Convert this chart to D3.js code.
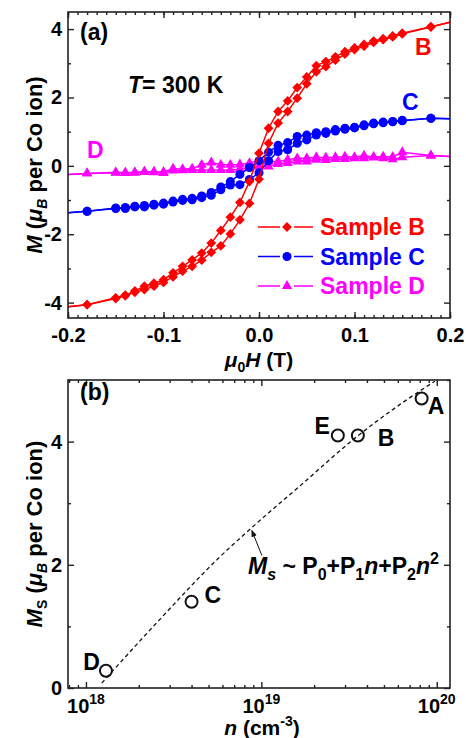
<!DOCTYPE html>
<html>
<head>
<meta charset="utf-8">
<script src="https://cdn.jsdelivr.net/npm/d3@7"></script>
<style>
  body { margin: 0; background: #fff; }
  svg text { font-family: "Liberation Sans", Arial, sans-serif; font-weight: bold; }
</style>
</head>
<body>
<svg id="chart" width="466" height="738"></svg>
<script>
// PANEL (a) DATA: applied field and both loop branches per sample
const fieldH = [-0.2, -0.18, -0.15, -0.14, -0.13, -0.12, -0.11, -0.10, -0.09, -0.08, -0.07, -0.06, -0.05, -0.04, -0.03, -0.02, -0.01, 0,
  0.01, 0.02, 0.03, 0.04, 0.05, 0.06, 0.07, 0.08, 0.09, 0.10, 0.11, 0.12, 0.13, 0.14, 0.15, 0.18, 0.2];

const sampleBDown = [-4.12, -4.06, -3.86, -3.78, -3.66, -3.52, -3.43, -3.33, -3.13, -2.94, -2.75, -2.55, -2.26, -1.89, -1.50, -1.07, -0.46, 0.37,
  1.10, 1.59, 1.90, 2.29, 2.60, 2.93, 3.05, 3.19, 3.34, 3.45, 3.55, 3.65, 3.72, 3.80, 3.88, 4.07, 4.20];
const sampleBUp = [-4.12, -4.06, -3.88, -3.80, -3.70, -3.62, -3.52, -3.41, -3.25, -3.08, -2.94, -2.76, -2.53, -2.34, -1.99, -1.58, -1.10, -0.39,
  0.66, 1.25, 1.59, 1.98, 2.40, 2.75, 2.90, 3.09, 3.27, 3.40, 3.50, 3.61, 3.69, 3.77, 3.86, 4.06, 4.20];

const sampleCDown = [-1.37, -1.33, -1.23, -1.22, -1.18, -1.16, -1.12, -1.09, -1.03, -0.98, -0.95, -0.88, -0.78, -0.62, -0.46, -0.25, -0.05, 0.15,
  0.40, 0.60, 0.68, 0.86, 0.90, 0.97, 1.00, 1.06, 1.10, 1.13, 1.20, 1.25, 1.28, 1.30, 1.33, 1.39, 1.38];
const sampleCUp = [-1.37, -1.33, -1.25, -1.25, -1.20, -1.20, -1.15, -1.12, -1.06, -1.01, -0.99, -0.93, -0.86, -0.70, -0.56, -0.55, -0.40, -0.20,
  0.15, 0.42, 0.47, 0.66, 0.76, 0.90, 0.95, 1.02, 1.07, 1.11, 1.17, 1.23, 1.26, 1.29, 1.32, 1.39, 1.38];

const sampleDDown = [-0.25, -0.22, -0.19, -0.20, -0.19, -0.17, -0.17, -0.18, -0.08, -0.10, -0.08, 0.03, 0.10, 0.03, 0.03, 0.04, 0.08, 0.17,
  0.13, 0.13, 0.18, 0.22, 0.22, 0.25, 0.24, 0.25, 0.27, 0.25, 0.30, 0.26, 0.27, 0.26, 0.40, 0.30, 0.27];
const sampleDUp = [-0.25, -0.22, -0.20, -0.21, -0.20, -0.18, -0.19, -0.21, -0.14, -0.13, -0.12, -0.12, -0.12, -0.12, -0.12, -0.10, -0.07, -0.02,
  -0.02, 0.05, 0.08, 0.13, 0.13, 0.18, 0.17, 0.20, 0.20, 0.22, 0.22, 0.24, 0.22, 0.19, 0.25, 0.30, 0.27];

const xTicksA = [-0.2, -0.1, 0, 0.1, 0.2];
const xTickLabelsA = ["-0.2", "-0.1", "0.0", "0.1", "0.2"];
const yTicksA = [-4, -2, 0, 2, 4];
const yMinorA = [-3, -1, 1, 3];

// PANEL (b) DATA: saturation moment vs carrier density
const sampleNames = ["A", "B", "C", "D", "E"];
const carrierN = [8.2e19, 3.55e19, 4.0e18, 1.3e18, 2.73e19];
const satM = [4.70, 4.10, 1.40, 0.28, 4.10];

// dashed fit curve
const fitN = [1.23e18, 2.63e18, 5.57e18, 8.71e18, 1.66e19, 3.50e19, 6.15e19, 9.75e19];
const fitM = [0.08, 1.11, 2.08, 2.59, 3.28, 4.08, 4.60, 4.98];

const xTicksB = [1e18, 1e19, 1e20];
const xTickExpB = ["18", "19", "20"];
const yTicksB = [0, 2, 4];
const yMinorB = [1, 3, 5];

const svg = d3.select("#chart");

function translation(x, y) {
  return 'translate(' + x + ',' + y + ')';
}

function markerPath(type) {
  if (type === 'diamond') return d3.symbol(d3.symbolSquare, 48)();
  if (type === 'circle') return d3.symbol(d3.symbolCircle, 64)();
  return d3.symbol(d3.symbolTriangle, 46)();
}

// ticks point inward on all four sides, labels only bottom + left
function drawAxes(x, y, box, xMajor, xMinor, yMajor, yMinor) {
  const g = svg.append('g');
  const sides = [
    [d3.axisBottom(x), translation(0, box.bottom), xMajor, xMinor],
    [d3.axisTop(x), translation(0, box.top), xMajor, xMinor],
    [d3.axisLeft(y), translation(box.left, 0), yMajor, yMinor],
    [d3.axisRight(y), translation(box.right, 0), yMajor, yMinor]
  ];
  sides.forEach(function(s) {
    g.append('g').attr('transform', s[1])
      .call(s[0].tickValues(s[2]).tickSize(-6).tickFormat(''));
    g.append('g').attr('transform', s[1])
      .call(s[0].tickValues(s[3]).tickSize(-3).tickFormat(''));
  });
  g.selectAll('.domain').remove();
  g.selectAll('.tick line').attr('stroke', '#222').attr('stroke-width', 1.4);
  g.append('rect')
    .attr('x', box.left).attr('y', box.top)
    .attr('width', box.right - box.left).attr('height', box.bottom - box.top)
    .attr('fill', 'none').attr('stroke', '#222').attr('stroke-width', 1.6);
  return g;
}

// ---------------- PANEL (a) ----------------
const a = { left: 68, right: 450, top: 12, bottom: 318 };
const xA = d3.scaleLinear().domain([-0.2, 0.2]).range([a.left, a.right]);
const yA = d3.scaleLinear().domain([-4.45, 4.5]).range([a.bottom, a.top]);

svg.append('clipPath').attr('id', 'clipA')
  .append('rect').attr('x', a.left).attr('y', a.top)
  .attr('width', a.right - a.left).attr('height', a.bottom - a.top);

const series = [
  { name: 'Sample D', down: sampleDDown, up: sampleDUp, color: '#ff00ff', marker: 'triangle' },
  { name: 'Sample C', down: sampleCDown, up: sampleCUp, color: '#0000ff', marker: 'circle' },
  { name: 'Sample B', down: sampleBDown, up: sampleBUp, color: '#ff0000', marker: 'diamond' }
];

const loopLine = d3.line()
  .x(function(d, i) { return xA(fieldH[i]); })
  .y(function(d) { return yA(d); });

const plotA = svg.append('g').attr('clip-path', 'url(#clipA)');

series.forEach(function(s) {
  [s.down, s.up].forEach(function(branch) {
    plotA.append('path')
      .attr('d', loopLine(branch))
      .attr('fill', 'none')
      .attr('stroke', s.color)
      .attr('stroke-width', 1.5);
  });
  [s.down, s.up].forEach(function(branch) {
    plotA.selectAll(null)
      .data(branch.map(function(m, i) { return [fieldH[i], m]; })
        .filter(function(d) { return Math.abs(d[0]) < 0.199; }))
      .enter().append('path')
        .attr('d', markerPath(s.marker))
        .attr('transform', function(d) {
          return translation(xA(d[0]), yA(d[1])) + (s.marker === 'diamond' ? ' rotate(45)' : '');
        })
        .attr('fill', s.color);
  });
});

const axA = drawAxes(xA, yA, a, xTicksA, d3.range(-20, 21).map(function(i) { return i / 100; }), yTicksA, yMinorA);

axA.append('g').attr('transform', translation(0, a.bottom))
  .call(d3.axisBottom(xA).tickValues(xTicksA).tickSize(0).tickPadding(10)
    .tickFormat(function(d, i) { return xTickLabelsA[i]; }))
  .attr('font-size', 20)
  .select('.domain').remove();

axA.append('g').attr('transform', translation(a.left, 0))
  .call(d3.axisLeft(yA).tickValues(yTicksA).tickSize(0).tickPadding(6)
    .tickFormat(function(d) { return d < 0 ? '-' + Math.abs(d) : '' + d; }))
  .attr('font-size', 20)
  .select('.domain').remove();

// annotations
svg.append('text').attr('x', 80).attr('y', 40).attr('font-size', 23).text('(a)');

const tLabel = svg.append('text').attr('x', 128).attr('y', 93).attr('font-size', 23);
tLabel.append('tspan').attr('font-style', 'italic').text('T');
tLabel.append('tspan').text('= 300 K');

svg.append('text').attr('x', 415).attr('y', 55).attr('font-size', 23).attr('fill', '#ff0000').text('B');
svg.append('text').attr('x', 402).attr('y', 110).attr('font-size', 23).attr('fill', '#0000ff').text('C');
svg.append('text').attr('x', 87).attr('y', 158).attr('font-size', 23).attr('fill', '#ff00ff').text('D');

// legend
const legendRows = [series[2], series[1], series[0]];
legendRows.forEach(function(s, i) {
  const cy = 227 + i * 29.5;
  const lg = svg.append('g');
  lg.append('line').attr('x1', 258).attr('x2', 280).attr('y1', cy).attr('y2', cy)
    .attr('stroke', s.color).attr('stroke-width', 1.5);
  lg.append('line').attr('x1', 294).attr('x2', 313).attr('y1', cy).attr('y2', cy)
    .attr('stroke', s.color).attr('stroke-width', 1.5);
  lg.append('path').attr('d', markerPath(s.marker))
    .attr('transform', translation(287, cy) + (s.marker === 'diamond' ? ' rotate(45)' : ''))
    .attr('fill', s.color);
  lg.append('text').attr('x', 320).attr('y', cy + 8).attr('font-size', 23)
    .attr('fill', s.color).text(s.name);
});

// axis titles (a)
const xTitleA = svg.append('text').attr('x', 259).attr('y', 367)
  .attr('text-anchor', 'middle').attr('font-size', 21);
xTitleA.append('tspan').attr('font-style', 'italic').text('\u03bc');
xTitleA.append('tspan').attr('font-size', 14).attr('dy', 5).text('0');
xTitleA.append('tspan').attr('font-style', 'italic').attr('dy', -5).text('H');
xTitleA.append('tspan').text(' (T)');

const yTitleA = svg.append('text').attr('transform', translation(42, 165) + ' rotate(-90)')
  .attr('text-anchor', 'middle').attr('font-size', 22);
yTitleA.append('tspan').attr('font-style', 'italic').text('M');
yTitleA.append('tspan').text(' (');
yTitleA.append('tspan').attr('font-style', 'italic').text('\u03bc');
yTitleA.append('tspan').attr('font-style', 'italic').attr('font-size', 14).attr('dy', 5).text('B');
yTitleA.append('tspan').attr('dy', -5).text(' per Co ion)');

// ---------------- PANEL (b) ----------------
const b = { left: 68, right: 450, top: 380, bottom: 688 };
const xB = d3.scaleLog().domain([7.9e17, 1.19e20]).range([b.left, b.right]);
const yB = d3.scaleLinear().domain([0, 5]).range([b.bottom, b.top]);

const nMinor = [8e17, 9e17].concat(
  d3.range(2, 10).map(function(k) { return k * 1e18; }),
  d3.range(2, 10).map(function(k) { return k * 1e19; }));

const axB = drawAxes(xB, yB, b, xTicksB, nMinor, yTicksB, yMinorB);

axB.append('g').attr('transform', translation(b.left, 0))
  .call(d3.axisLeft(yB).tickValues(yTicksB).tickSize(0).tickPadding(6).tickFormat(d3.format('d')))
  .attr('font-size', 20)
  .select('.domain').remove();

xTicksB.forEach(function(v, i) {
  const t = svg.append('text').attr('x', xB(v)).attr('y', 713)
    .attr('text-anchor', 'middle').attr('font-size', 20);
  t.append('tspan').text('10');
  t.append('tspan').attr('font-size', 14).attr('dy', -9).text(xTickExpB[i]);
});

// fit curve
svg.append('path')
  .attr('d', d3.line()
    .x(function(d, i) { return xB(fitN[i]); })
    .y(function(d) { return yB(d); })
    .curve(d3.curveMonotoneX)(fitM))
  .attr('fill', 'none')
  .attr('stroke', '#111')
  .attr('stroke-width', 1.3)
  .attr('stroke-dasharray', '4,3');

// points
svg.selectAll('.ms-point')
  .data(sampleNames)
  .enter().append('circle')
    .attr('class', 'ms-point')
    .attr('cx', function(d, i) { return xB(carrierN[i]); })
    .attr('cy', function(d, i) { return yB(satM[i]); })
    .attr('r', 6)
    .attr('fill', 'none')
    .attr('stroke', '#111')
    .attr('stroke-width', 2);

const labelPlace = {
  A: [6, 16, 'start'],
  B: [20, 11, 'start'],
  C: [13, 1, 'start'],
  D: [-6, -1, 'end'],
  E: [-8, -1, 'end']
};
sampleNames.forEach(function(name, i) {
  const p = labelPlace[name];
  svg.append('text')
    .attr('x', xB(carrierN[i]) + p[0])
    .attr('y', yB(satM[i]) + p[1])
    .attr('text-anchor', p[2])
    .attr('font-size', 23)
    .text(name);
});

svg.append('text').attr('x', 80).attr('y', 400).attr('font-size', 23).text('(b)');

// arrow to fit curve
const tipX = xB(fitN[3]), tipY = yB(fitM[3]);
svg.append('defs').append('marker')
  .attr('id', 'arrowhead').attr('viewBox', '0 0 10 10')
  .attr('refX', 9).attr('refY', 5)
  .attr('markerWidth', 7).attr('markerHeight', 7)
  .attr('orient', 'auto')
  .append('path').attr('d', 'M0,1 L10,5 L0,9 Z').attr('fill', '#111');
svg.append('line')
  .attr('x1', tipX + 11).attr('y1', tipY + 27)
  .attr('x2', tipX + 1).attr('y2', tipY + 2)
  .attr('stroke', '#111').attr('stroke-width', 1)
  .attr('marker-end', 'url(#arrowhead)');

const fitLabel = svg.append('text').attr('x', 248).attr('y', 574).attr('font-size', 23);
fitLabel.append('tspan').attr('font-style', 'italic').text('M');
fitLabel.append('tspan').attr('font-style', 'italic').attr('font-size', 16).attr('dy', 6).text('s');
fitLabel.append('tspan').attr('dy', -6).text(' ~ P');
fitLabel.append('tspan').attr('font-size', 16).attr('dy', 6).text('0');
fitLabel.append('tspan').attr('dy', -6).text('+P');
fitLabel.append('tspan').attr('font-size', 16).attr('dy', 6).text('1');
fitLabel.append('tspan').attr('font-style', 'italic').attr('dy', -6).text('n');
fitLabel.append('tspan').text('+P');
fitLabel.append('tspan').attr('font-size', 16).attr('dy', 6).text('2');
fitLabel.append('tspan').attr('font-style', 'italic').attr('dy', -6).text('n');
fitLabel.append('tspan').attr('font-size', 16).attr('dy', -10).text('2');

// axis titles (b)
const xTitleB = svg.append('text').attr('x', 262).attr('y', 735)
  .attr('text-anchor', 'middle').attr('font-size', 21);
xTitleB.append('tspan').attr('font-style', 'italic').text('n');
xTitleB.append('tspan').text(' (cm');
xTitleB.append('tspan').attr('font-size', 14).attr('dy', -9).text('-3');
xTitleB.append('tspan').attr('dy', 9).text(')');

const yTitleB = svg.append('text').attr('transform', translation(42, 534) + ' rotate(-90)')
  .attr('text-anchor', 'middle').attr('font-size', 22);
yTitleB.append('tspan').attr('font-style', 'italic').text('M');
yTitleB.append('tspan').attr('font-size', 14).attr('dy', 5).text('S');
yTitleB.append('tspan').attr('dy', -5).text(' (');
yTitleB.append('tspan').attr('font-style', 'italic').text('\u03bc');
yTitleB.append('tspan').attr('font-style', 'italic').attr('font-size', 14).attr('dy', 5).text('B');
yTitleB.append('tspan').attr('dy', -5).text(' per Co ion)');
</script>
</body>
</html>
